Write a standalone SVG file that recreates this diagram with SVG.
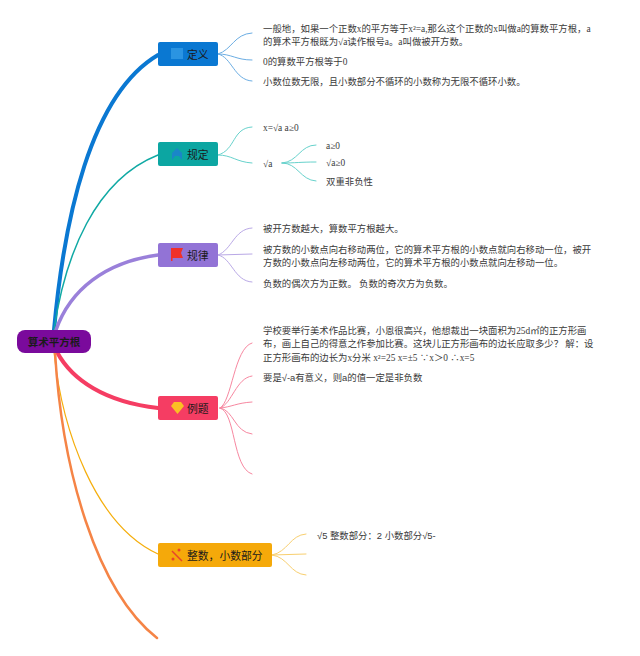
<svg xmlns="http://www.w3.org/2000/svg" width="640" height="656" viewBox="0 0 640 656">
<style>
text{font-family:"Liberation Serif","Noto Sans CJK SC",serif;font-size:9.4px;fill:#3a3a3a}
.sans{font-family:"Liberation Sans","Noto Sans CJK SC",sans-serif}
.n{font-family:"Noto Sans CJK SC","Liberation Sans",sans-serif;font-size:10.8px;fill:#1a1a1a}
.m{fill:none;stroke-linecap:round}
.s{fill:none;stroke-width:1;stroke-linecap:round}
</style>
<rect width="640" height="656" fill="#fff"/>
<g id="connectors">
<path class="m" d="M54 330C64 220 90 95 158 55" stroke="#0a78d2" stroke-width="4"/>
<path class="m" d="M54 330C65 255 95 180 158 155" stroke="#10a9a4" stroke-width="1.500"/>
<path class="m" d="M56 330C70 290 105 262 158 255" stroke="#9a80da" stroke-width="3.500"/>
<path class="m" d="M57 352C72 380 105 402 158 408" stroke="#f53d63" stroke-width="4"/>
<path class="m" d="M54 352C62 430 95 525 158 554" stroke="#f5ae0c" stroke-width="1.200"/>
<path class="m" d="M55 352C62 470 96 590 157 638" stroke="#f58446" stroke-width="2.500"/>
<g stroke="#6bade3">
<path class="s" d="M218 54C232 50 234 34 252 33"/>
<path class="s" d="M218 54C232 54 236 60 252 60"/>
<path class="s" d="M218 54C232 57 234 80 252 81"/>
</g>
<g stroke="#67d2cc">
<path class="s" d="M218 155C236 150 232 128 252 127"/>
<path class="s" d="M218 155C232 155 236 162 252 163"/>
<path class="s" d="M282 163C298 162 300 145 316 145"/>
<path class="s" d="M282 163C296 163 300 162 316 162"/>
<path class="s" d="M282 163C298 163 300 180 316 181"/>
</g>
<g stroke="#b9a8e6">
<path class="s" d="M218 255C232 250 234 229 252 228"/>
<path class="s" d="M218 255L252 254"/>
<path class="s" d="M218 255C232 258 234 281 252 282"/>
</g>
<g stroke="#f787a0">
<path class="s" d="M220 408C232 402 234 348 252 343"/>
<path class="s" d="M220 408C232 404 236 378 252 376"/>
<path class="s" d="M220 408C232 407 236 403 252 402"/>
<path class="s" d="M220 408C234 410 234 432 252 434"/>
<path class="s" d="M220 408C236 412 232 468 252 474"/>
</g>
<g stroke="#f8cf6f">
<path class="s" d="M272 555C288 552 290 535 306 534"/>
<path class="s" d="M272 555L306 554"/>
<path class="s" d="M272 555C288 557 290 574 306 575"/>
</g>
</g>
<g id="root"><rect x="17" y="330" width="74" height="23" rx="8" fill="#7a0a9c"/><text class="n" x="54" y="345.500" text-anchor="middle" font-weight="700" style="font-size:10.500px">算术平方根</text></g>
<g id="node-def"><rect x="158" y="42" width="60" height="24" rx="2" fill="#0a78d2"/><rect x="171" y="48" width="12" height="11" fill="#2a94e2"/><text class="n" x="187" y="59">定义</text>
<text x="263" y="32">一般地，如果一个正数x的平方等于x²=a,那么这个正数的x叫做a的算数平方根，a</text>
<text x="263" y="45">的算术平方根既为√a读作根号a。a叫做被开方数。</text>
<text x="263" y="65">0的算数平方根等于0</text>
<text x="263" y="85">小数位数无限，且小数部分不循环的小数称为无限不循环小数。</text></g>
<g id="node-rule"><rect x="158" y="142" width="60" height="24" rx="2" fill="#0ca6a2"/><path d="M172 160L172 153L177 148L182 153L182 160L179 156L175 156Z" fill="#1a86c8"/><text class="n" x="187" y="159">规定</text>
<text x="263" y="131">x=√a a≥0</text>
<text x="263" y="167">√a</text>
<text x="326" y="149">a≥0</text>
<text x="326" y="166">√a≥0</text>
<text x="326" y="185">双重非负性</text></g>
<g id="node-law"><rect x="158" y="243" width="60" height="24" rx="2" fill="#9273d6"/><path d="M171 261V248H183L181 253L183 258H172.500V261Z" fill="#f0302a"/><text class="n" x="187" y="260">规律</text>
<text x="263" y="232">被开方数越大，算数平方根越大。</text>
<text x="263" y="253">被方数的小数点向右移动两位，它的算术平方根的小数点就向右移动一位，被开</text>
<text x="263" y="266">方数的小数点向左移动两位，它的算术平方根的小数点就向左移动一位。</text>
<text x="263" y="287">负数的偶次方为正数。 负数的奇次方为负数。</text></g>
<g id="node-ex"><rect x="158" y="396" width="60" height="24" rx="2" fill="#f53d63"/><path d="M171 406L174 402H181L184 406L177.500 414Z" fill="#fbbf24"/><text class="n" x="187" y="413">例题</text>
<text x="263" y="334">学校要举行美术作品比赛，小恩很高兴，他想裁出一块面积为25d㎡的正方形画</text>
<text x="263" y="347">布，画上自己的得意之作参加比赛。这块儿正方形画布的边长应取多少？ 解：设</text>
<text x="263" y="361">正方形画布的边长为x分米 x²=25 x=±5 ∵x＞0 ∴x=5</text>
<text class="sans" x="263" y="381">要是√-a有意义，则a的值一定是非负数</text></g>
<g id="node-int"><rect x="158" y="543" width="114" height="24" rx="2" fill="#f5a90a"/><path d="M172 551L182 561" stroke="#e8442a" stroke-width="1.500" fill="none"/><circle cx="173" cy="559" r="1.500" fill="#e8442a"/><circle cx="179" cy="550" r="1.500" fill="#e8442a"/><text class="n" x="187" y="560">整数，小数部分</text>
<text class="sans" x="317" y="539">√5 整数部分：2 小数部分√5-</text></g>
</svg>
